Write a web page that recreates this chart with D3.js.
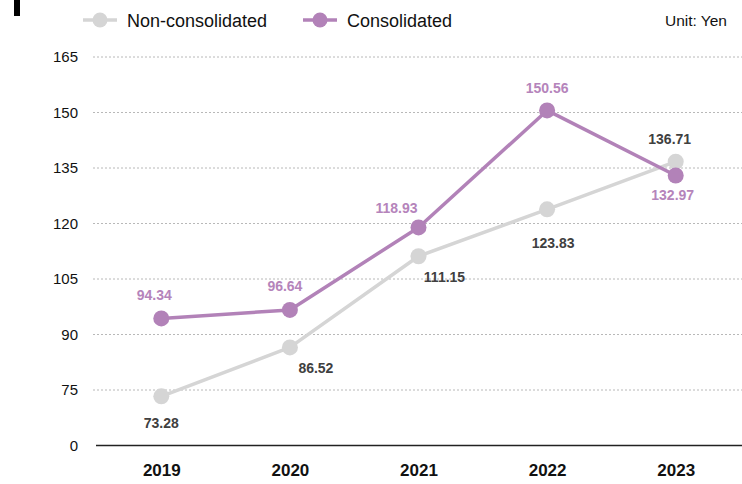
<!DOCTYPE html>
<html>
<head>
<meta charset="utf-8">
<script src="https://cdn.jsdelivr.net/npm/d3@7"></script>
<style>
  html, body { margin: 0; padding: 0; background: #fff; }
  svg { display: block; font-family: "Liberation Sans", Arial, sans-serif; }
</style>
</head>
<body>
<svg id="chart" width="742" height="484"></svg>
<script>
// Fiscal years
const years = ["2019", "2020", "2021", "2022", "2023"];
// Earnings per share, yen
const nonConsolidated = [73.28, 86.52, 111.15, 123.83, 136.71];
const consolidated = [94.34, 96.64, 118.93, 150.56, 132.97];
// Axis ticks; the bottom of the axis is broken and labelled 0
const tickValues = [60, 75, 90, 105, 120, 135, 150, 165];
const tickLabels = ["0", "75", "90", "105", "120", "135", "150", "165"];
const seriesNames = ["Non-consolidated", "Consolidated"];

// Label placement around each point [dx, dy]
const nonLabelPos = [[0, 32], [26, 26], [26, 26], [6, 39], [-6, -18]];
const conLabelPos = [[-7, -18], [-5, -19], [-22, -14], [0, -17], [-3, 24]];

const colors = { non: "#d5d5d5", con: "#b282b8", conText: "#b584bb", nonText: "#404040" };

const svg = d3.select("#chart");

const x = d3.scalePoint().domain(years).range([97, 740]).padding(0.5);
const y = d3.scaleLinear().domain([60, 165]).range([445.5, 57]);

// Header marker
svg.append("rect").attr("x", 14).attr("y", 0).attr("width", 6).attr("height", 16).attr("fill", "#000");

// Gridlines
svg.append("g")
  .selectAll("line")
  .data(tickValues.slice(1))
  .join("line")
  .attr("x1", 93).attr("x2", 742)
  .attr("y1", d => y(d)).attr("y2", d => y(d))
  .attr("stroke", "#b8b8b8")
  .attr("stroke-width", 1)
  .attr("stroke-dasharray", "2,2");

// Y axis labels
const yAxis = d3.axisLeft(y)
  .tickValues(tickValues)
  .tickFormat((d, i) => tickLabels[i])
  .tickSize(0)
  .tickPadding(0);
const yg = svg.append("g").attr("transform", "translate(78,0)").call(yAxis);
yg.select(".domain").remove();
yg.selectAll("text")
  .attr("font-size", 15)
  .attr("font-family", "'Liberation Sans', Arial, sans-serif")
  .attr("fill", "#111");

// X axis
const xAxis = d3.axisBottom(x).tickSize(0).tickPadding(0);
const xg = svg.append("g").attr("transform", `translate(0,${y(60)})`).call(xAxis);
xg.select(".domain").remove();
svg.append("line")
  .attr("x1", 96).attr("x2", 742)
  .attr("y1", y(60)).attr("y2", y(60))
  .attr("stroke", "#222").attr("stroke-width", 1.5);
xg.selectAll("text")
  .attr("font-size", 17)
  .attr("font-weight", "bold")
  .attr("font-family", "'Liberation Sans', Arial, sans-serif")
  .attr("fill", "#111")
  .attr("dy", null)
  .attr("y", 30);

const line = d3.line().x((d, i) => x(years[i])).y(d => y(d));

function drawSeries(values, color) {
  const g = svg.append("g");
  g.append("path")
    .datum(values)
    .attr("d", line)
    .attr("fill", "none")
    .attr("stroke", color)
    .attr("stroke-width", 3.5)
    .attr("stroke-linejoin", "round");
  g.selectAll("circle")
    .data(values)
    .join("circle")
    .attr("cx", (d, i) => x(years[i]))
    .attr("cy", d => y(d))
    .attr("r", 8)
    .attr("fill", color);
  return g;
}

function drawLabels(values, textColor, labelPos) {
  svg.append("g")
    .selectAll("text")
    .data(values)
    .join("text")
    .attr("x", (d, i) => x(years[i]) + labelPos[i][0])
    .attr("y", (d, i) => y(d) + labelPos[i][1])
    .attr("text-anchor", "middle")
    .attr("font-size", 14)
    .attr("font-weight", "bold")
    .attr("fill", textColor)
    .text(d => d.toFixed(2));
}

drawSeries(nonConsolidated, colors.non);
drawSeries(consolidated, colors.con);
drawLabels(nonConsolidated, colors.nonText, nonLabelPos);
drawLabels(consolidated, colors.conText, conLabelPos);

// Legend
const legend = [
  { name: seriesNames[0], color: colors.non, x: 83 },
  { name: seriesNames[1], color: colors.con, x: 303 }
];
const lg = svg.append("g");
legend.forEach(l => {
  lg.append("line")
    .attr("x1", l.x).attr("x2", l.x + 34)
    .attr("y1", 20).attr("y2", 20)
    .attr("stroke", l.color).attr("stroke-width", 3.5);
  lg.append("circle")
    .attr("cx", l.x + 17).attr("cy", 20).attr("r", 7.5)
    .attr("fill", l.color);
  lg.append("text")
    .attr("x", l.x + 44).attr("y", 26.5)
    .attr("font-size", 18)
    .attr("fill", "#111")
    .text(l.name);
});

svg.append("text")
  .attr("x", 727).attr("y", 25.5)
  .attr("text-anchor", "end")
  .attr("font-size", 15.5)
  .attr("fill", "#111")
  .text("Unit: Yen");
</script>
</body>
</html>
